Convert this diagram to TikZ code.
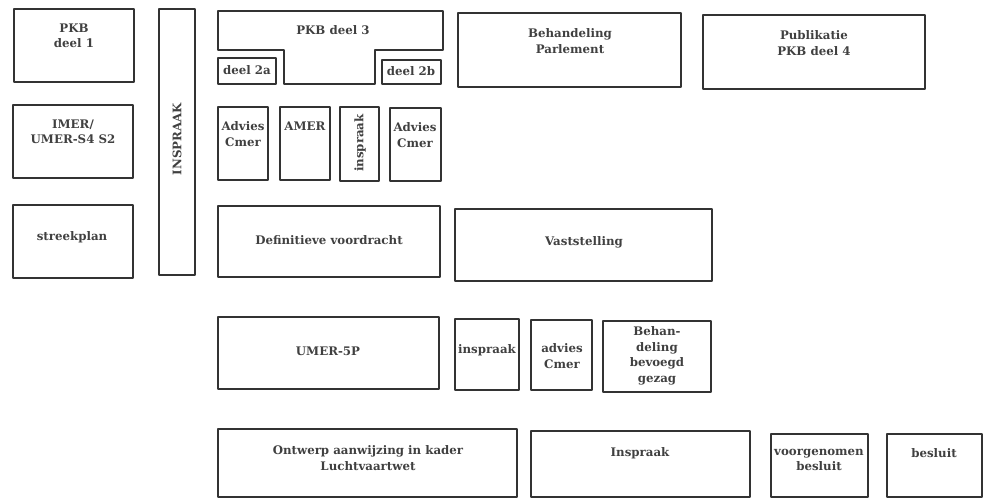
\documentclass[tikz,border=0pt]{standalone}
\usepackage{fontspec}
\setmainfont{DejaVu Serif}
\usepackage{tikz}

\begin{document}
\begin{tikzpicture}[line cap=round,line join=round,x=1pt,y=-1pt,
        frame/.style={line width=1.8pt,draw=black!80},
        txt/.style={color=black!75,font=\bfseries\fontsize{11.8}{15.5}\selectfont,align=center,inner sep=0pt}]
                \useasboundingbox (0,0) rectangle (989,499);
                \draw [frame] (14,9) rectangle (134,82);
                \draw [frame] (13,105) rectangle (133,178);
                \draw [frame] (13,205) rectangle (133,278);
                \draw [frame] (159,9) rectangle (195,275);
                \draw [frame] (218,11)-- (443,11)-- (443,50)-- (375,50)-- (375,84)-- (284,84)-- (284,50)-- (218,50)-- cycle;
                \draw [frame] (218,58) rectangle (276,84);
                \draw [frame] (382,60) rectangle (441,84);
                \draw [frame] (218,107) rectangle (268,180);
                \draw [frame] (280,107) rectangle (330,180);
                \draw [frame] (340,107) rectangle (379,181);
                \draw [frame] (390,108) rectangle (441,181);
                \draw [frame] (218,206) rectangle (440,277);
                \draw [frame] (458,13) rectangle (681,87);
                \draw [frame] (703,15) rectangle (925,89);
                \draw [frame] (455,209) rectangle (712,281);
                \draw [frame] (218,317) rectangle (439,389);
                \draw [frame] (455,319) rectangle (519,390);
                \draw [frame] (531,320) rectangle (592,390);
                \draw [frame] (603,321) rectangle (711,392);
                \draw [frame] (218,429) rectangle (517,497);
                \draw [frame] (531,431) rectangle (750,497);
                \draw [frame] (771,434) rectangle (868,497);
                \draw [frame] (887,434) rectangle (982,497);
                \node [txt] (pkbEen) at (74,36) {PKB\\deel 1};
                \node [txt] (imer) at (73,132) {IMER/\\UMER-S4 S2};
                \node [txt] (streekplan) at (72,237) {streekplan};
                \node [txt,rotate=90] (inspraakLang) at (177,139) {INSPRAAK};
                \node [txt] (pkbDrie) at (333,30) {PKB deel 3};
                \node [txt] (deelA) at (247,70) {deel 2a};
                \node [txt] (deelB) at (411,71) {deel 2b};
                \node [txt] (adviesA) at (243,134) {Advies\\Cmer};
                \node [txt] (amer) at (305,126) {AMER};
                \node [txt,rotate=90] (inspraakKort) at (360,143) {inspraak};
                \node [txt] (adviesB) at (415,135) {Advies\\Cmer};
                \node [txt] (voordracht) at (329,240) {Definitieve voordracht};
                \node [txt] (parlement) at (570,41) {Behandeling\\Parlement};
                \node [txt] (publikatie) at (814,43) {Publikatie\\PKB deel 4};
                \node [txt] (vaststelling) at (584,242) {Vaststelling};
                \node [txt] (umer) at (328,351) {UMER-5P};
                \node [txt] (inspraakSP) at (487,350) {inspraak};
                \node [txt] (adviesSP) at (562,356) {advies\\Cmer};
                \node [txt] (gezag) at (657,356) {Behan-\\deling\\bevoegd\\gezag};
                \node [txt] (ontwerp) at (368,458) {Ontwerp aanwijzing in kader\\Luchtvaartwet};
                \node [txt] (inspraakLvw) at (640,453) {Inspraak};
                \node [txt] (voorgenomen) at (819,460) {voorgenomen\\besluit};
                \node [txt] (besluit) at (934,453) {besluit};
\end{tikzpicture}
\end{document}
